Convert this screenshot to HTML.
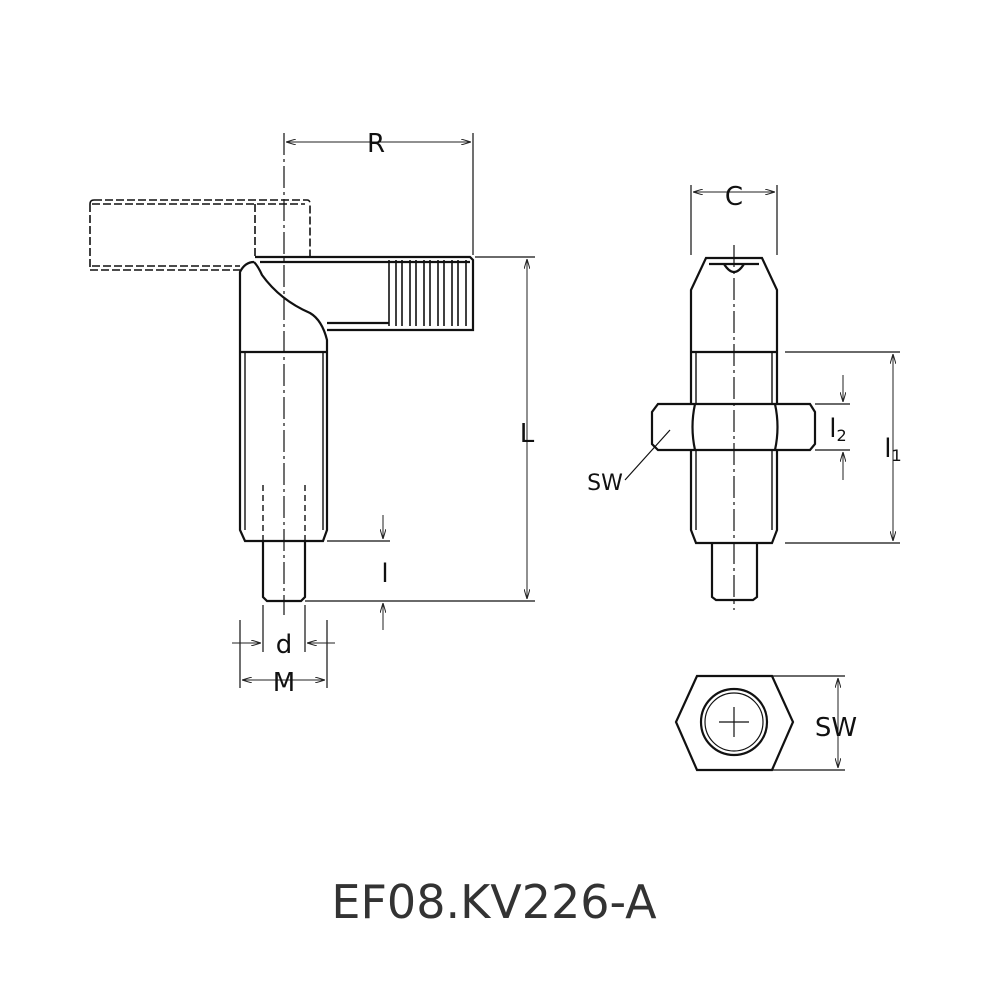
<!DOCTYPE html>
<html><head><style>body{margin:0;background:#fff}svg{display:block}</style></head><body>
<svg width="1000" height="1000" viewBox="0 0 1000 1000" xmlns="http://www.w3.org/2000/svg" font-family="'DejaVu Sans','Liberation Sans',sans-serif">
<rect width="1000" height="1000" fill="#fff"/>
<defs><marker id="a" markerWidth="10" markerHeight="6" refX="10" refY="3" orient="auto-start-reverse"><path d="M0,0 L10,3 L0,6" fill="none" stroke="#222" stroke-width="1"/></marker></defs>
<g fill="none" stroke="#111" stroke-width="2.2">
<g stroke-dasharray="8,3" stroke-width="1.6">
<path d="M94,200 H307 Q310,200 310,204 V258"/><path d="M90,204 V270 H240"/><path d="M94,200 Q90,200 90,204"/>
<path d="M92,204 H305"/><path d="M255,204 V258"/><path d="M92,266 H240"/>
</g>
<path d="M255,257 H470 L473,260 V330 H327"/>
<path d="M260,262 H470"/><path d="M327,323 H389"/>
<g stroke-width="1.6"><path d="M389,260 V326 M396,260 V326 M402,260 V326 M410,260 V326 M416,260 V326 M424,260 V326 M430,260 V326 M438,260 V326 M444,260 V326 M452,260 V326 M458,260 V326 M466,260 V326"/></g>
<path d="M254,262 Q245,262 240,272 V530 L245,541 H323 L327,530 V340 Q322,320 310,313 Q280,300 262,275 Q258,266 254,262"/>
<path d="M240,352 H327"/>
<path d="M245,352 V530 M323,352 V530" stroke-width="1.4"/>
<path d="M263,541 V597 L267,601 H301 L305,597 V541"/>
<path d="M263,485 V541 M305,485 V541" stroke-dasharray="6,4" stroke-width="1.4"/>
<path d="M706,258 H762 L777,290 V530 L772,543 H696 L691,530 V290 Z"/>
<path d="M709,264 H759"/><path d="M724,264 Q734,280 744,264"/>
<path d="M691,352 H777"/>
<path d="M696,352 V530 M772,352 V530" stroke-width="1.4"/>
<path d="M712,543 V597 L716,600 H753 L757,597 V543"/>
<path d="M658,404 H810 L815,412 V444 L810,450 H658 L652,444 V412 Z" fill="#fff"/>
<path d="M695,404 Q690,427 695,450 M775,404 Q780,427 775,450"/>
<path d="M697,676 H772 L793,722 L772,770 H697 L676,722 Z"/>
<path d="M697,676 L691,690 M772,676 L778,690 M697,770 L691,756 M772,770 L778,756" stroke-width="1.4"/>
<circle cx="734" cy="722" r="33"/><circle cx="734" cy="722" r="29" stroke-width="1.2"/>
</g>
<g stroke="#111" stroke-width="1.2" fill="none">
<path d="M284,133 V615" stroke-dasharray="22,4,3,4"/>
<path d="M734,245 V610" stroke-dasharray="22,4,3,4"/>
<path d="M719,722 H749 M734,707 V737"/>
<path d="M473,133 V255 M475,257 H535 M305,601 H535 M327,541 H390 M691,185 V255 M777,185 V255 M785,352 H900 M785,543 H900 M815,404 H850 M815,450 H850 M772,676 H845 M772,770 H845 M240,620 V688 M327,620 V688 M263,605 V652 M305,605 V652"/>
<path d="M670,430 L625,480"/>
</g>
<g stroke="#222" stroke-width="1" fill="none">
<path d="M286,142 H471" marker-start="url(#a)" marker-end="url(#a)"/>
<path d="M527,259 V599" marker-start="url(#a)" marker-end="url(#a)"/>
<path d="M693,192 H775" marker-start="url(#a)" marker-end="url(#a)"/>
<path d="M893,354 V541" marker-start="url(#a)" marker-end="url(#a)"/>
<path d="M838,678 V768" marker-start="url(#a)" marker-end="url(#a)"/>
<path d="M242,680 H325" marker-start="url(#a)" marker-end="url(#a)"/>
<path d="M232,643 H261" marker-end="url(#a)"/><path d="M335,643 H307" marker-end="url(#a)"/>
<path d="M383,515 V539" marker-end="url(#a)"/><path d="M383,630 V603" marker-end="url(#a)"/>
<path d="M843,375 V402" marker-end="url(#a)"/><path d="M843,480 V452" marker-end="url(#a)"/>
</g>
<g font-size="26" fill="#111" text-anchor="middle">
<text x="376" y="152">R</text>
<text x="527" y="442">L</text>
<text x="734" y="205">C</text>
<text x="284" y="653">d</text>
<text x="284" y="691">M</text>
<text x="385" y="582">l</text>
<text x="838" y="437">l<tspan font-size="16" dy="4">2</tspan></text>
<text x="893" y="457">l<tspan font-size="16" dy="4">1</tspan></text>
<text x="605" y="490" font-size="22">SW</text>
<text x="836" y="736" font-size="26">SW</text>
</g>
<text x="494" y="918" font-size="46" fill="#333" text-anchor="middle">EF08.KV226-A</text>
</svg>
</body></html>
